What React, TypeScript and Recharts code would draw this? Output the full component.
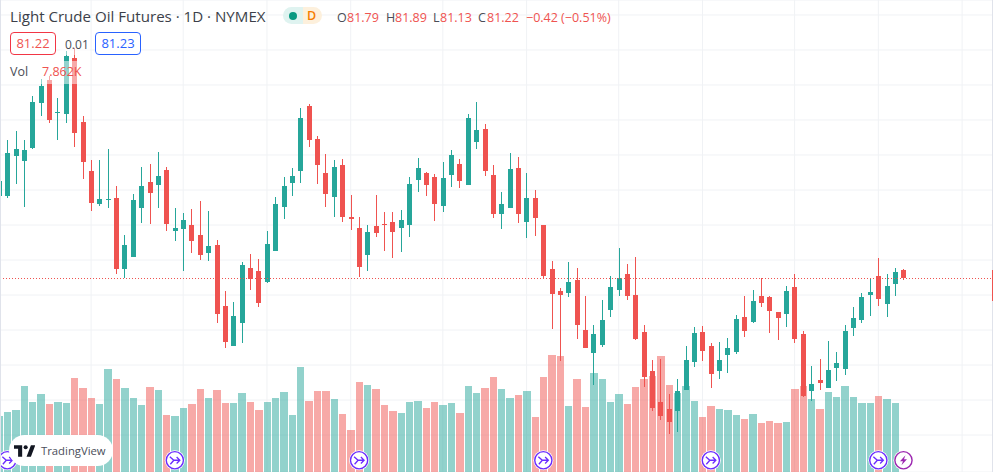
import {
  Bar,
  CartesianGrid,
  Cell,
  ComposedChart,
  ReferenceDot,
  ReferenceLine,
  XAxis,
  YAxis,
} from "recharts";

const UP = "#26a69a";
const DOWN = "#ef5350";
const UP_VOL = "rgba(38,166,154,0.5)";
const DOWN_VOL = "rgba(239,83,80,0.5)";
const GRID = "#f0f2f5";
const FONT = "'Open Sans', Roboto, sans-serif";

const opens = [
  87.07, 87.07, 89.93, 89.57, 90.5, 93.71, 95.36, 93.0, 92.93, 96.93, 92.36, 88.86, 86.5, 86.79, 86.93, 81.86,
  82.71, 86.21, 88.07, 87.86, 88.93, 84.57, 84.71, 85.0, 84.29, 83.0, 83.57, 79.21, 76.36, 78.0, 81.93, 81.71,
  80.93, 83.14, 86.29, 88.0, 88.86, 93.5, 91.14, 88.71, 87.0, 89.29, 85.57, 84.79, 82.86, 84.93, 85.07, 85.21,
  84.79, 85.0, 88.21, 88.71, 88.43, 86.36, 88.57, 89.36, 87.86, 90.93, 91.86, 88.57, 85.79, 86.21, 89.07, 85.21,
  86.93, 85.0, 81.86, 80.29, 80.14, 81.07, 77.5, 75.86, 76.43, 78.93, 80.36, 81.5, 80.0, 77.36, 74.57, 72.36,
  71.86, 71.71, 73.21, 75.21, 77.36, 76.36, 74.57, 75.71, 75.93, 78.43, 78.07, 79.93, 79.86, 78.79, 78.64, 80.57,
  77.21, 73.14, 73.93, 73.36, 74.79, 74.71, 77.64, 78.21, 80.0, 81.36, 79.36, 80.79, 81.79,
];
const highs = [
  88.14, 91.07, 91.71, 91.07, 94.21, 95.43, 95.64, 94.07, 97.43, 97.64, 92.79, 89.64, 89.64, 90.43, 87.79, 84.29,
  87.21, 89.14, 89.36, 90.21, 89.14, 86.21, 85.86, 86.14, 86.71, 86.0, 83.93, 80.29, 79.5, 82.36, 82.93, 82.57,
  84.57, 87.0, 88.43, 89.07, 93.36, 93.64, 91.36, 90.07, 89.64, 89.71, 87.14, 85.57, 85.0, 87.14, 85.93, 85.93,
  86.07, 88.43, 89.79, 88.79, 88.64, 89.5, 90.36, 89.71, 92.93, 93.79, 92.21, 89.29, 87.36, 90.14, 89.86, 88.71,
  87.5, 85.0, 82.43, 80.5, 82.36, 81.93, 79.93, 77.86, 79.64, 81.36, 83.36, 82.21, 82.71, 77.86, 75.36, 75.43,
  72.93, 74.0, 76.36, 77.71, 77.78, 76.57, 76.64, 76.93, 78.57, 79.93, 80.36, 81.21, 79.93, 78.79, 80.64, 81.5,
  77.43, 74.93, 75.43, 76.71, 75.93, 77.86, 79.14, 80.14, 81.21, 82.64, 81.5, 81.93, 81.89,
];
const lows = [
  87.07, 86.93, 87.93, 86.29, 90.43, 92.79, 92.29, 91.07, 92.29, 90.57, 88.29, 86.0, 86.36, 86.21, 81.5, 81.21,
  82.71, 85.14, 85.07, 86.21, 84.57, 83.86, 81.71, 83.0, 82.5, 82.43, 78.0, 76.21, 76.36, 76.57, 80.36, 79.14,
  80.86, 83.14, 85.43, 87.07, 88.0, 90.57, 87.93, 86.29, 85.57, 85.21, 84.64, 81.29, 81.71, 84.14, 83.14, 82.64,
  83.07, 84.14, 87.36, 87.07, 85.29, 85.93, 87.71, 87.64, 87.86, 90.43, 88.5, 85.5, 84.71, 86.21, 85.14, 84.07,
  84.21, 81.21, 77.57, 75.29, 79.86, 76.86, 76.21, 73.57, 76.29, 78.43, 79.93, 79.64, 76.79, 73.43, 71.71, 71.07,
  70.07, 70.21, 73.21, 74.86, 75.29, 73.36, 74.0, 74.43, 75.79, 77.0, 78.0, 79.14, 77.29, 76.79, 77.71, 76.57,
  72.71, 72.43, 73.21, 73.36, 73.86, 74.29, 77.07, 78.0, 78.5, 79.21, 78.43, 79.93, 81.13,
];
const closes = [
  88.14, 90.14, 90.43, 90.36, 93.79, 94.93, 92.5, 93.07, 97.07, 91.57, 89.5, 86.57, 86.86, 86.86, 81.86, 83.57,
  86.79, 87.79, 87.29, 88.5, 85.07, 84.79, 85.36, 83.86, 82.86, 83.5, 78.64, 76.64, 78.5, 82.14, 81.14, 79.43,
  83.64, 86.5, 87.79, 88.5, 92.64, 91.07, 89.29, 87.21, 89.14, 85.57, 85.43, 82.0, 84.5, 84.43, 85.0, 84.5,
  85.36, 87.93, 89.07, 87.86, 86.5, 88.36, 90.0, 88.14, 92.64, 91.79, 88.86, 85.79, 86.5, 89.0, 85.79, 86.93,
  85.5, 81.36, 80.07, 80.0, 80.93, 77.86, 76.21, 77.21, 78.21, 80.57, 81.21, 79.93, 76.86, 74.14, 71.93, 71.36,
  70.93, 73.14, 75.36, 77.29, 76.0, 74.36, 75.36, 76.21, 78.29, 77.43, 79.57, 79.43, 78.86, 78.36, 80.29, 76.86,
  72.79, 73.64, 73.71, 74.64, 75.14, 77.43, 78.36, 79.86, 80.21, 79.71, 80.64, 81.64, 81.22,
];
// thousands of contracts
const volumes = [
  180, 192, 198, 270, 222, 246, 216, 222, 219, 294, 264, 234, 216, 321, 291, 264,
  234, 213, 267, 258, 183, 180, 204, 216, 261, 234, 258, 219, 219, 249, 222, 198,
  222, 234, 252, 183, 327, 225, 255, 255, 231, 186, 138, 282, 273, 261, 213, 195,
  189, 222, 225, 204, 222, 213, 219, 189, 270, 249, 264, 297, 261, 234, 243, 255,
  177, 297, 363, 360, 210, 291, 207, 309, 291, 222, 246, 216, 267, 291, 300, 360,
  273, 249, 270, 225, 177, 210, 201, 198, 183, 171, 186, 159, 165, 159, 162, 261,
  270, 231, 201, 252, 237, 270, 237, 219, 219, 240, 231, 219, 7.862,
];

const priceTicks = [67.5, 70, 72.5, 75, 77.5, 80, 82.5, 85, 87.5, 90, 92.5, 95, 97.5, 100];
const timeTicks = [11, 22, 32, 42, 53, 63, 74, 84, 95, 105, 115];
const splitMarkers = [1, 21, 43, 65, 85, 105];
const earningsMarkers = [108];
const lastPrice = 81.22;

const chartData = closes.map((close, i) => ({
  index: i,
  open: opens[i],
  high: highs[i],
  low: lows[i],
  close,
  range: [lows[i], highs[i]],
  volume: volumes[i],
}));

function Candle(props: any) {
  const { x, y, width, height, payload } = props;
  const { open, high, low, close } = payload;
  const color = close >= open ? UP : DOWN;
  const pxPerUnit = height / (high - low);
  const top = y + (high - Math.max(open, close)) * pxPerUnit;
  const bottom = y + (high - Math.min(open, close)) * pxPerUnit;
  const center = Math.floor(x + width / 2);
  return (
    <g shapeRendering="crispEdges">
      <rect x={center} y={Math.round(y)} width={1} height={Math.max(1, Math.round(height))} fill={color} />
      <rect
        x={center - 2}
        y={Math.round(top)}
        width={5}
        height={Math.max(1, Math.round(bottom) - Math.round(top))}
        fill={color}
      />
    </g>
  );
}

function VolumeBar(props: any) {
  const { x, y, width, height, fill } = props;
  if (height <= 0) return null;
  const center = x + width / 2;
  const left = Math.round(center - 3.7);
  const right = Math.round(center + 3.7);
  return <rect x={left} y={y} width={right - left} height={height} fill={fill} shapeRendering="crispEdges" />;
}

// snap the last price line onto a pixel row so the dots stay sharp
function LastPriceLine({ x1, y1, x2 }: any) {
  const row = Math.round(y1) + 0.5;
  return <line x1={x1} y1={row} x2={x2} y2={row} stroke={DOWN} strokeWidth={1} strokeDasharray="1 2" />;
}

function SplitMarker({ cx, cy }: any) {
  return (
    <g transform={`translate(${cx},${cy})`} fill="none">
      <circle r={10} fill="#fff" stroke="none" />
      <circle r={8.6} stroke="#6a2bff" strokeWidth={1.4} />
      <path d="M-5 -3.5 L-1 0 H5 M1.8 -3.2 L5 0 L1.8 3.2 M-1 0 L-4.5 4" stroke="#6a2bff" strokeWidth={1.3} />
    </g>
  );
}

function EarningsMarker({ cx, cy }: any) {
  return (
    <g transform={`translate(${cx},${cy})`}>
      <circle r={10} fill="#fff" />
      <circle r={8.6} fill="#fff" stroke="#9c27b0" strokeWidth={1.4} />
      <path d="M2 -5 L-3.5 1 H-0.5 L-2 5 L3.5 -1 H0.5 Z" fill="#9c27b0" />
    </g>
  );
}

const label = (left: number, top: number, color: string, size = 13) => ({
  position: "absolute" as const,
  left,
  top,
  color,
  fontSize: size,
  lineHeight: "18px",
  fontFamily: FONT,
  whiteSpace: "nowrap" as const,
});

export default function App() {
  return (
    <div style={{ position: "absolute", left: 0, top: 0, width: 993, height: 472, overflow: "hidden", background: "#fff" }}>
      <ComposedChart width={993} height={472} data={chartData} margin={{ top: 0, right: 0, bottom: 0, left: 0 }}>
        <XAxis xAxisId="price" dataKey="index" type="number" domain={[0.125, 118.69]} ticks={timeTicks} allowDataOverflow hide />
        <XAxis xAxisId="volume" dataKey="index" type="number" domain={[0.125, 118.69]} ticks={timeTicks} allowDataOverflow hide />
        <YAxis yAxisId="price" domain={[67.36, 101.07]} ticks={priceTicks} allowDataOverflow hide />
        <YAxis yAxisId="volume" domain={[12, 1428]} allowDataOverflow hide />
        <CartesianGrid xAxisId="price" yAxisId="price" stroke={GRID} />
        <Bar xAxisId="volume" yAxisId="volume" dataKey="volume" barSize={7} shape={VolumeBar} isAnimationActive={false}>
          {chartData.map((d) => (
            <Cell key={d.index} fill={d.close >= d.open ? UP_VOL : DOWN_VOL} />
          ))}
        </Bar>
        <Bar xAxisId="price" yAxisId="price" dataKey="range" barSize={5} shape={Candle} isAnimationActive={false} />
        <ReferenceLine xAxisId="price" yAxisId="price" y={lastPrice} shape={(p: any) => <LastPriceLine {...p} />} />
        {splitMarkers.map((m) => (
          <ReferenceDot key={m} xAxisId="price" yAxisId="price" x={m} y={68.2} shape={SplitMarker} />
        ))}
        {earningsMarkers.map((m) => (
          <ReferenceDot key={m} xAxisId="price" yAxisId="price" x={m} y={68.2} shape={EarningsMarker} />
        ))}
      </ComposedChart>

      {/* pane edges */}
      <div style={{ position: "absolute", left: 0, top: 0, width: 1, height: 472, background: "#e0e3eb" }} />
      <div style={{ position: "absolute", left: 992, top: 0, width: 1, height: 472, background: "#e0e3eb" }} />
      <div style={{ position: "absolute", left: 992, top: 270, width: 1, height: 31, background: DOWN }} />

      {/* legend */}
      <div style={label(10, 7, "#3c3f49", 15.1)}>Light Crude Oil Futures · 1D · NYMEX</div>
      <div style={{ position: "absolute", left: 283, top: 7, width: 20, height: 17, background: "#dff3f0", borderRadius: "9px 0 0 9px" }} />
      <div style={{ position: "absolute", left: 303, top: 7, width: 19, height: 17, background: "#fdf0dc", borderRadius: "0 9px 9px 0" }} />
      <div style={{ position: "absolute", left: 289, top: 12, width: 8, height: 8, borderRadius: 4, background: "#089981" }} />
      <div style={{ ...label(307, 7, "#f57c00", 12.5), fontWeight: 600 }}>D</div>

      <div style={label(337, 9, "#4a4d57", 12.5)}>O</div>
      <div style={label(347, 9, DOWN, 12.5)}>81.79</div>
      <div style={label(386, 9, "#4a4d57", 12.5)}>H</div>
      <div style={label(395, 9, DOWN, 12.5)}>81.89</div>
      <div style={label(433, 9, "#4a4d57", 12.5)}>L</div>
      <div style={label(440, 9, DOWN, 12.5)}>81.13</div>
      <div style={label(478, 9, "#4a4d57", 12.5)}>C</div>
      <div style={label(487, 9, DOWN, 12.5)}>81.22</div>
      <div style={label(526, 9, DOWN, 12.5)}>−0.42 (−0.51%)</div>

      <div style={{ position: "absolute", left: 60, top: 33, width: 30, height: 22, background: "rgba(255,255,255,0.5)" }} />
      <div style={{ position: "absolute", left: 8, top: 61, width: 76, height: 23, background: "rgba(255,255,255,0.5)" }} />
      <div style={{ ...label(10, 32, DOWN), width: 46, height: 23, boxSizing: "border-box", border: "1px solid #f23645", borderRadius: 4, textAlign: "center", lineHeight: "21px", background: "#fff" }}>81.22</div>
      <div style={label(65, 36, "#4a4d57", 12)}>0.01</div>
      <div style={{ ...label(95, 32, "#2962ff"), width: 46, height: 23, boxSizing: "border-box", border: "1px solid #2962ff", borderRadius: 4, textAlign: "center", lineHeight: "21px", background: "#fff" }}>81.23</div>
      <div style={label(10, 63, "#4a4d57", 12.5)}>Vol</div>
      <div style={label(42, 63, DOWN, 12.5)}>7.862K</div>

      {/* watermark */}
      <div style={{ position: "absolute", left: 9, top: 435, width: 104, height: 31, borderRadius: 15.5, background: "#fff" }}>
        <svg style={{ position: "absolute", left: 5, top: 10 }} width={21} height={12} viewBox="0 0 36 20">
          <path d="M14 0H0v6h7v14h7V0zM29 20h-7.5L29 0h7.5L29 20z" fill="#131722" />
          <circle cx={20} cy={3.5} r={3.5} fill="#131722" />
        </svg>
        <div style={{ ...label(32, 7, "#4a4e5a", 11.3) }}>TradingView</div>
      </div>
    </div>
  );
}
